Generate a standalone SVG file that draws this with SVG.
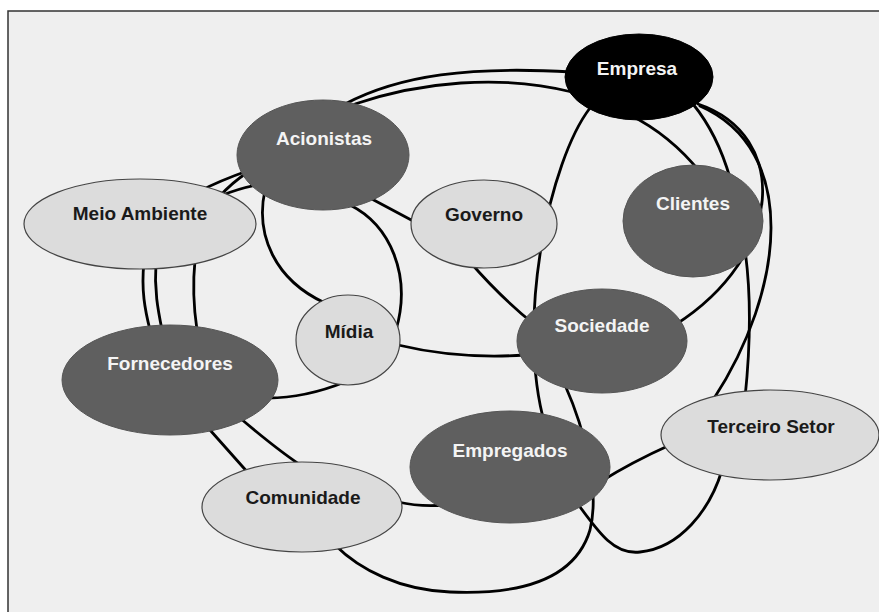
<svg xmlns="http://www.w3.org/2000/svg" width="879" height="612" viewBox="0 0 879 612">
  <style>
    .conn { fill: none; stroke: #000; stroke-width: 2.8; stroke-linecap: round; }
    .dark { fill: #5f5f5f; stroke: #555; stroke-width: 1; }
    .black { fill: #000; stroke: #000; stroke-width: 1; }
    .light { fill: #dcdcdc; stroke: #444; stroke-width: 1.2; }
    .lbl { font-family: "Liberation Sans", Arial, sans-serif; font-weight: bold; font-size: 19px; text-anchor: middle; }
    .lbl-w { fill: #f4f4f4; }
    .lbl-d { fill: #1a1a1a; }
  </style>
  <rect x="0" y="0" width="879" height="612" fill="#ffffff"/>
  <rect x="8" y="11" width="880" height="610" fill="#efefef" stroke="#333" stroke-width="1.5"/>

  <g id="connectors">
    <!-- Acionistas / Meio Ambiente to Empresa -->
    <path class="conn" d="M 345,104 C 400,75 470,66 572,72"/>
    <path class="conn" d="M 355,104 C 420,82 500,74 572,92"/>
    <!-- Meio Ambiente to Acionistas -->
    <path class="conn" d="M 198,192 C 215,183 230,177 250,170"/>
    <path class="conn" d="M 220,196 C 228,187 236,180 248,172"/>
    <path class="conn" d="M 220,196 C 235,190 250,186 262,184"/>
    <!-- Meio Ambiente to Fornecedores -->
    <path class="conn" d="M 144,262 C 141,290 145,310 150,330"/>
    <path class="conn" d="M 156,262 C 154,290 158,310 162,330"/>
    <path class="conn" d="M 195,260 C 192,290 194,310 197,330"/>
    <!-- Acionistas to Midia -->
    <path class="conn" d="M 265,190 C 255,235 275,280 325,303"/>
    <path class="conn" d="M 350,205 C 390,225 412,275 396,330"/>
    <!-- Acionistas to Governo -->
    <path class="conn" d="M 370,198 L 415,222"/>
    <!-- Governo to Sociedade -->
    <path class="conn" d="M 470,262 C 490,285 510,305 535,325"/>
    <!-- Empresa to Empregados (behind Governo, Sociedade) -->
    <path class="conn" d="M 590,108 C 550,160 515,320 545,425"/>
    <!-- Midia to Sociedade -->
    <path class="conn" d="M 398,345 C 440,355 480,358 525,355"/>
    <!-- Midia to Fornecedores -->
    <path class="conn" d="M 345,382 C 320,392 295,398 268,398"/>
    <!-- Fornecedores to Comunidade -->
    <path class="conn" d="M 210,430 L 250,475"/>
    <path class="conn" d="M 240,418 C 260,435 280,452 305,468"/>
    <!-- Comunidade to Empregados -->
    <path class="conn" d="M 398,502 Q 420,507 445,505"/>
    <!-- Sociedade to Comunidade (bottom loop) -->
    <path class="conn" d="M 565,385 C 585,430 600,490 590,530 C 575,580 520,595 450,592 C 400,590 360,570 335,545"/>
    <!-- Empregados to Terceiro Setor (bottom loop) -->
    <path class="conn" d="M 575,500 C 600,535 615,555 640,552 C 680,548 710,510 722,470"/>
    <!-- Empregados to Terceiro Setor -->
    <path class="conn" d="M 600,482 Q 632,462 670,445"/>
    <!-- Clientes to Terceiro Setor -->
    <path class="conn" d="M 745,250 C 752,300 750,350 745,398"/>
    <!-- Empresa to Clientes -->
    <path class="conn" d="M 630,115 Q 670,135 700,172"/>
    <path class="conn" d="M 693,104 C 710,125 722,150 730,178"/>
    <!-- Empresa to Sociedade -->
    <path class="conn" d="M 698,104 C 790,135 785,255 675,325"/>
    <!-- Empresa to Terceiro Setor -->
    <path class="conn" d="M 700,106 C 800,150 785,290 713,400"/>
  </g>

  <g id="node-empresa">
    <ellipse class="black" cx="639" cy="77" rx="74" ry="43"/>
    <text class="lbl lbl-w" x="637" y="75">Empresa</text>
  </g>
  <g id="node-acionistas">
    <ellipse class="dark" cx="323" cy="155" rx="86" ry="55"/>
    <text class="lbl lbl-w" x="324" y="145">Acionistas</text>
  </g>
  <g id="node-meio-ambiente">
    <ellipse class="light" cx="140" cy="224" rx="116" ry="45"/>
    <text class="lbl lbl-d" x="140" y="220">Meio Ambiente</text>
  </g>
  <g id="node-governo">
    <ellipse class="light" cx="484" cy="224" rx="73" ry="44"/>
    <text class="lbl lbl-d" x="484" y="221">Governo</text>
  </g>
  <g id="node-clientes">
    <ellipse class="dark" cx="693" cy="221" rx="70" ry="56"/>
    <text class="lbl lbl-w" x="693" y="210">Clientes</text>
  </g>
  <g id="node-midia">
    <ellipse class="light" cx="348" cy="340" rx="52" ry="45"/>
    <text class="lbl lbl-d" x="349" y="338">Mídia</text>
  </g>
  <g id="node-sociedade">
    <ellipse class="dark" cx="602" cy="341" rx="85" ry="52"/>
    <text class="lbl lbl-w" x="602" y="332">Sociedade</text>
  </g>
  <g id="node-fornecedores">
    <ellipse class="dark" cx="170" cy="380" rx="108" ry="55"/>
    <text class="lbl lbl-w" x="170" y="370">Fornecedores</text>
  </g>
  <g id="node-empregados">
    <ellipse class="dark" cx="510" cy="467" rx="100" ry="56"/>
    <text class="lbl lbl-w" x="510" y="457">Empregados</text>
  </g>
  <g id="node-terceiro-setor">
    <ellipse class="light" cx="770" cy="435" rx="109" ry="45"/>
    <text class="lbl lbl-d" x="771" y="433">Terceiro Setor</text>
  </g>
  <g id="node-comunidade">
    <ellipse class="light" cx="302" cy="507" rx="100" ry="45"/>
    <text class="lbl lbl-d" x="303" y="504">Comunidade</text>
  </g>
</svg>
